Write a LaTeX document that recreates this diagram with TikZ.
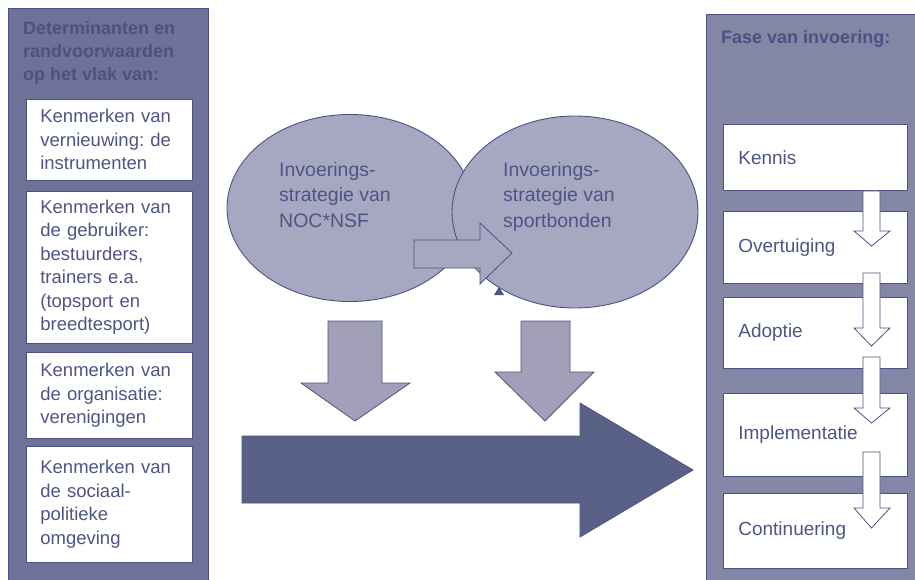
\documentclass[tikz,border=0pt]{standalone}
\usepackage{fontspec}
\setmainfont{Liberation Sans}
\frenchspacing
\usetikzlibrary{shapes.geometric}
\definecolor{leftpanel}{HTML}{6F7298}
\definecolor{rightpanel}{HTML}{8486A6}
\definecolor{titletext}{HTML}{4A5283}
\definecolor{bodytext}{HTML}{4E5584}
\definecolor{ellfill}{HTML}{A6A7C1}
\definecolor{downfill}{HTML}{A29FB9}
\definecolor{bigfill}{HTML}{5A6186}
\definecolor{outl}{HTML}{4C5384}
\tikzset{
  panelbox/.style={rectangle, draw=outl, line width=0.8pt, inner sep=0pt, anchor=north west},
  paneltitle/.style={anchor=north west, inner sep=0pt, align=left, text=titletext,
    font=\fontsize{18}{23}\selectfont\bfseries},
  lbox/.style={rectangle, draw=outl, line width=0.7pt, fill=white, anchor=north west,
    text width=138pt, inner xsep=14pt, inner ysep=0pt, align=left, text=bodytext,
    font=\fontsize{18.5}{23.5}\selectfont},
  rbox/.style={rectangle, draw=outl, line width=0.7pt, fill=white, anchor=north west,
    text width=154pt, inner xsep=15pt, inner ysep=0pt, align=left, text=bodytext,
    font=\fontsize{19}{23}\selectfont},
  strat/.style={ellipse, draw=outl, line width=0.9pt, fill=ellfill, inner sep=0pt},
  strattext/.style={anchor=north west, inner sep=0pt, align=left, text=bodytext,
    font=\fontsize{19.5}{25.5}\selectfont},
  blockarrow/.style={draw=outl, line width=0.8pt, line join=miter},
}
\begin{document}
\begin{tikzpicture}[x=1pt,y=-1pt]
\useasboundingbox (0,0) rectangle (915,580);
\fill[white] (0,0) rectangle (915,580);

% left panel
\node[panelbox, fill=leftpanel, minimum width=200pt, minimum height=590pt] (L) at (8,8) {};
\node[paneltitle] (Lt) at (23,21) {Determinanten en\\randvoorwaarden\\op het vlak van:};
\node[lbox, minimum height=81pt] (b1) at (26,99) {Kenmerken van\\vernieuwing: de\\instrumenten};
\node[lbox, minimum height=152pt] (b2) at (26,191) {Kenmerken van\\de gebruiker:\\bestuurders,\\trainers e.a.\\(topsport en\\breedtesport)};
\node[lbox, minimum height=86pt] (b3) at (26,352) {Kenmerken van\\de organisatie:\\verenigingen};
\node[lbox, minimum height=116pt] (b4) at (26,446) {Kenmerken van\\de sociaal-\\politieke\\omgeving};

% right panel
\node[panelbox, fill=rightpanel, minimum width=220pt, minimum height=580pt] (R) at (706,14) {};
\node[paneltitle] (Rt) at (721,30) {Fase van invoering:};
\node[rbox, minimum height=66pt] (r1) at (723,124) {Kennis};
\node[rbox, minimum height=72pt] (r2) at (723,211) {Overtuiging};
\node[rbox, minimum height=71pt] (r3) at (723,297) {Adoptie};
\node[rbox, minimum height=83pt] (r4) at (723,393) {Implementatie};
\node[rbox, minimum height=75pt] (r5) at (723,493) {Continuering};

% white step arrows
\foreach \t/\h/\p in {191/231/246, 273/328/346, 357/408/423, 452/508/528}{
  \draw[blockarrow, fill=white] (863,\t) -- (880,\t) -- (880,\h) -- (890,\h) -- (871.5,\p)
    -- (854,\h) -- (863,\h) -- cycle;
}

% strategy ellipses
\node[strat, minimum width=246pt, minimum height=187pt] (e1) at (350,208) {};
\node[strat, minimum width=246pt, minimum height=192pt] (e2) at (575,212) {};
\node[strattext] (t1) at (279,162) {Invoerings-\\strategie van\\NOC*NSF};
\node[strattext] (t2) at (503,162) {Invoerings-\\strategie van\\sportbonden};

% arrow between ellipses
\draw[blockarrow, fill=ellfill] (414,240) -- (480,240) -- (480,223) -- (512,253)
  -- (480,284) -- (480,268) -- (414,268) -- cycle;
\fill[outl] (499,287) -- (504,295) -- (494,295) -- cycle;

% down arrows
\draw[blockarrow, fill=downfill] (328,321) -- (382,321) -- (382,383) -- (410,383)
  -- (355,421) -- (301,383) -- (328,383) -- cycle;
\draw[blockarrow, fill=downfill] (521,321) -- (570,321) -- (570,372) -- (594,372)
  -- (545,421) -- (495,372) -- (521,372) -- cycle;

% big arrow
\draw[blockarrow, fill=bigfill] (242,436) -- (580,436) -- (580,403) -- (693,470)
  -- (580,537) -- (580,503) -- (242,503) -- cycle;
\end{tikzpicture}
\end{document}
